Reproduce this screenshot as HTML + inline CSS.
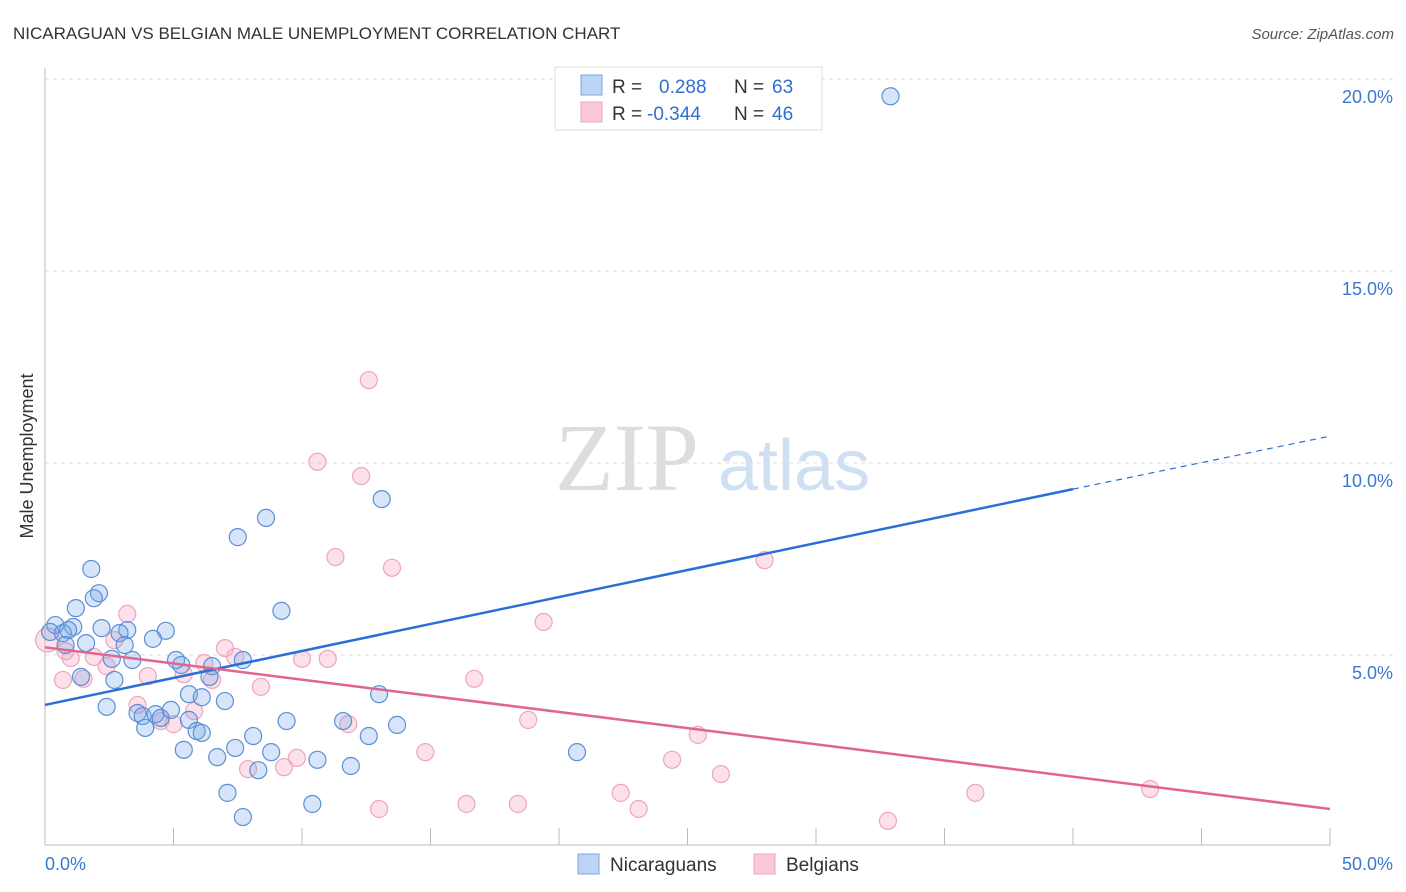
<!DOCTYPE html>
<html><head><meta charset="utf-8"><style>
body{margin:0;background:#fff;font-family:"Liberation Sans",sans-serif}
svg{display:block}
</style></head><body>
<svg id="chart" width="1406" height="892" xmlns="http://www.w3.org/2000/svg">
<text x="13" y="39" font-size="17" fill="#333">NICARAGUAN VS BELGIAN MALE UNEMPLOYMENT CORRELATION CHART</text>
<text x="1394" y="39" font-size="15" fill="#555" text-anchor="end" font-style="italic">Source: ZipAtlas.com</text>
<text x="555" y="490" font-size="96" fill="#ddd" font-family="Liberation Serif,serif">ZIP</text>
<text x="718" y="490" font-size="72" fill="#cfe0f3">atlas</text>
<g id="grid"></g>
<g id="axes"></g>
<g id="marks"></g>
<text transform="translate(33,456) rotate(-90)" font-size="18" fill="#333" text-anchor="middle">Male Unemployment</text>
<g>
<rect x="555" y="67" width="267" height="63" fill="#fff" stroke="#ddd"/>
<rect x="581" y="75" width="21" height="20" fill="#bcd5f5" stroke="#7aa6e0"/>
<rect x="581" y="102" width="21" height="20" fill="#fac8d8" stroke="#eea5bd"/>
<text x="612" y="93" font-size="19" fill="#333">R =</text>
<text x="659" y="93" font-size="19" fill="#2f6fd0">0.288</text>
<text x="734" y="93" font-size="19" fill="#333">N =</text>
<text x="772" y="93" font-size="19" fill="#2f6fd0">63</text>
<text x="612" y="120" font-size="19" fill="#333">R =</text>
<text x="647" y="120" font-size="19" fill="#2f6fd0">-0.344</text>
<text x="734" y="120" font-size="19" fill="#333">N =</text>
<text x="772" y="120" font-size="19" fill="#2f6fd0">46</text>
</g>
<g>
<rect x="578" y="854" width="21" height="20" fill="#bcd5f5" stroke="#7aa6e0"/>
<text x="610" y="871" font-size="19" fill="#333">Nicaraguans</text>
<rect x="754" y="854" width="21" height="20" fill="#fac8d8" stroke="#eea5bd"/>
<text x="786" y="871" font-size="19" fill="#333">Belgians</text>
</g>
</svg>
<script>
const xTicks=[0,5,10,15,20,25,30,35,40,45,50];
const yTicks=[5,10,15,20];
const yTickLabels=["5.0%","10.0%","15.0%","20.0%"];
const xEndLabels=["0.0%","50.0%"];
const nicX=[32.9,13.1,8.6,7.5,1.8,2.1,1.9,1.2,9.2,0.4,1.1,0.2,0.7,0.9,2.2,3.2,2.9,4.7,4.2,1.6,3.1,0.8,2.6,3.4,5.1,5.3,6.5,7.7,1.4,2.7,6.4,5.6,6.1,7.0,13.0,2.4,3.6,3.8,4.3,4.5,4.9,5.6,3.9,5.9,6.1,9.4,11.6,13.7,8.1,12.6,5.4,7.4,8.8,20.7,6.7,10.6,8.3,11.9,7.1,10.4,7.7];
const nicY=[19.55,9.06,8.57,8.07,7.24,6.61,6.48,6.22,6.15,5.78,5.73,5.6,5.57,5.65,5.7,5.65,5.57,5.63,5.42,5.31,5.26,5.26,4.9,4.87,4.87,4.74,4.71,4.87,4.43,4.35,4.43,3.98,3.9,3.8,3.98,3.65,3.49,3.41,3.46,3.36,3.57,3.31,3.1,3.02,2.97,3.28,3.28,3.18,2.89,2.89,2.53,2.58,2.47,2.47,2.34,2.27,2.0,2.11,1.41,1.12,0.78];
const belX=[12.6,10.6,12.3,11.3,13.5,28.0,3.2,19.4,0.1,2.7,7.0,0.8,1.9,1.0,2.4,6.2,7.4,10.0,11.0,0.7,1.5,4.0,6.5,5.4,8.4,16.7,3.6,5.8,4.5,5.0,11.8,18.8,25.4,14.8,9.8,9.3,7.9,24.4,26.3,22.4,36.2,43.0,13.0,16.4,18.4,23.1,32.8];
const belY=[12.16,10.03,9.66,7.55,7.27,7.47,6.07,5.86,5.39,5.39,5.18,5.1,4.95,4.92,4.71,4.79,4.95,4.9,4.9,4.35,4.38,4.45,4.35,4.5,4.17,4.38,3.7,3.54,3.28,3.2,3.2,3.31,2.92,2.47,2.32,2.08,2.03,2.27,1.9,1.41,1.41,1.51,0.99,1.12,1.12,0.99,0.68];
const nicTrend=[3.7,9.32,10.7];const nicTrendX=[0,40,50];
const belTrend=[5.2,0.99];const belTrendX=[0,50];
const NS="http://www.w3.org/2000/svg";
const X=v=>45+v/50*1285, Y=v=>847-v/5*192;
function mk(t,a,p){const e=document.createElementNS(NS,t);for(const k in a)e.setAttribute(k,a[k]);p.appendChild(e);return e;}
const grid=document.getElementById('grid'),axes=document.getElementById('axes'),marks=document.getElementById('marks');
yTicks.forEach((t,i)=>{const l=mk('line',{x1:45,x2:1395,y1:Y(t),y2:Y(t),stroke:'#ddd','stroke-dasharray':'4,4'},grid);


const tx=mk('text',{x:1393,y:Y(t)+24,'font-size':18,fill:'#3a78d0','text-anchor':'end'},axes);tx.textContent=yTickLabels[i];

});
const la=mk('line',{x1:45,x2:45,y1:68,y2:845,stroke:'#bbb'},axes);


const lb=mk('line',{x1:45,x2:1330,y1:845,y2:845,stroke:'#bbb'},axes);


xTicks.forEach(t=>{const l=mk('line',{x1:X(t),x2:X(t),y1:828,y2:845,stroke:'#bbb'},axes);

});
[[0,'start',45],[50,'end',1393]].forEach((d,i)=>{const tx=mk('text',{x:d[2],y:870,'font-size':18,fill:'#3a78d0','text-anchor':d[1]},axes);tx.textContent=xEndLabels[i];

});
belX.forEach((x,i)=>{const c=mk('circle',{cx:X(x),cy:Y(belY[i]),r:i==8?12:8.5,fill:'rgba(246,170,195,0.35)',stroke:'#eea5bd','stroke-width':1.2},marks);

});
nicX.forEach((x,i)=>{const c=mk('circle',{cx:X(x),cy:Y(nicY[i]),r:8.5,fill:'rgba(120,170,230,0.3)',stroke:'#5b8fd8','stroke-width':1.2},marks);

});
const t1=mk('line',{x1:X(nicTrendX[0]),y1:Y(nicTrend[0]),x2:X(nicTrendX[1]),y2:Y(nicTrend[1]),stroke:'#2a6fd6','stroke-width':2.5},marks);


const t2=mk('line',{x1:X(nicTrendX[1]),y1:Y(nicTrend[1]),x2:X(nicTrendX[2]),y2:Y(nicTrend[2]),stroke:'#2a6fd6','stroke-width':1.2,'stroke-dasharray':'6,5'},marks);


const t3=mk('line',{x1:X(belTrendX[0]),y1:Y(belTrend[0]),x2:X(belTrendX[1]),y2:Y(belTrend[1]),stroke:'#e06592','stroke-width':2.5},marks);


</script>
</body></html>
